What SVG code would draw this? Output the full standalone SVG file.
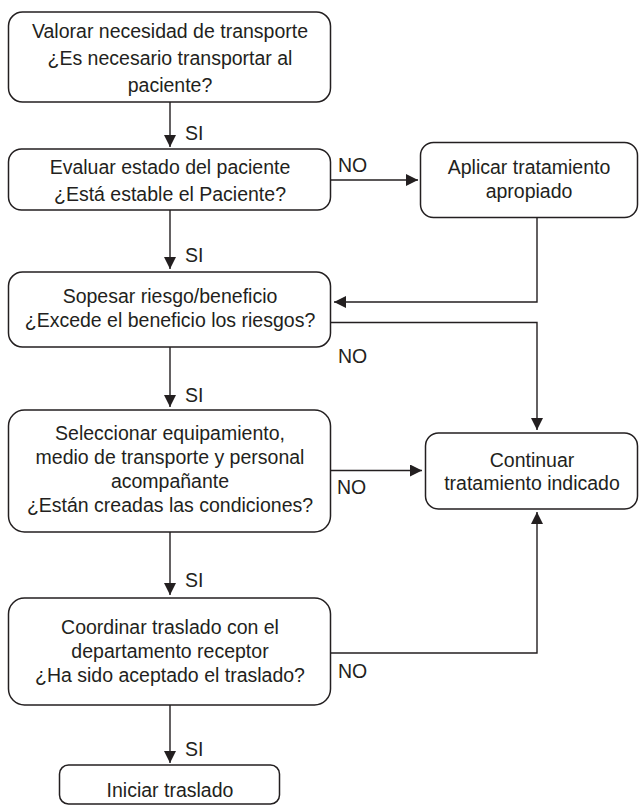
<svg xmlns="http://www.w3.org/2000/svg" width="643" height="808" viewBox="0 0 643 808">
<style>
  .box { fill: #ffffff; stroke: #231f20; stroke-width: 1.5; }
  .t { font-family: "Liberation Sans", Arial, sans-serif; font-size: 19.5px; fill: #231f20; text-anchor: middle; }
  .lbl { font-family: "Liberation Sans", Arial, sans-serif; font-size: 19.5px; fill: #231f20; }
  .c { fill: none; stroke: #231f20; stroke-width: 1.4; }
</style>
<defs>
  <marker id="ah" markerUnits="userSpaceOnUse" markerWidth="12" markerHeight="12" refX="12" refY="6" orient="auto">
    <path d="M0,0 L12,6 L0,12 z" fill="#231f20"/>
  </marker>
</defs>
<rect width="643" height="808" fill="#ffffff"/>

<g id="connectors">
  <line class="c" x1="170" y1="102" x2="170" y2="147" marker-end="url(#ah)"/>
  <line class="c" x1="331" y1="180" x2="418" y2="180" marker-end="url(#ah)"/>
  <polyline class="c" points="537,218 537,302 334,302" marker-end="url(#ah)"/>
  <line class="c" x1="170" y1="210" x2="170" y2="269" marker-end="url(#ah)"/>
  <polyline class="c" points="331,322.5 537,322.5 537,430" marker-end="url(#ah)"/>
  <line class="c" x1="170" y1="347" x2="170" y2="407" marker-end="url(#ah)"/>
  <line class="c" x1="331" y1="470.5" x2="422" y2="470.5" marker-end="url(#ah)"/>
  <line class="c" x1="170" y1="532" x2="170" y2="595" marker-end="url(#ah)"/>
  <polyline class="c" points="331,653 537,653 537,512" marker-end="url(#ah)"/>
  <line class="c" x1="170" y1="705" x2="170" y2="763" marker-end="url(#ah)"/>
  <text class="lbl" x="185" y="140">SI</text>
  <text class="lbl" x="185" y="262">SI</text>
  <text class="lbl" x="185" y="402">SI</text>
  <text class="lbl" x="185" y="587">SI</text>
  <text class="lbl" x="185" y="756">SI</text>
  <text class="lbl" x="338" y="172">NO</text>
  <text class="lbl" x="338" y="363">NO</text>
  <text class="lbl" x="337" y="494">NO</text>
  <text class="lbl" x="338" y="678">NO</text>
</g>

<g id="n1">
  <rect class="box" x="8.5" y="12" width="322" height="90" rx="14"/>
  <text class="t" x="170" y="38">Valorar necesidad de transporte</text>
  <text class="t" x="170" y="65">¿Es necesario transportar al</text>
  <text class="t" x="170" y="92">paciente?</text>
</g>

<g id="n2">
  <rect class="box" x="8.5" y="149" width="322" height="61" rx="13"/>
  <text class="t" x="170" y="174">Evaluar estado del paciente</text>
  <text class="t" x="170" y="201">¿Está estable el Paciente?</text>
</g>

<g id="n3">
  <rect class="box" x="420.5" y="142.5" width="217" height="75" rx="13"/>
  <text class="t" x="529" y="174">Aplicar tratamiento</text>
  <text class="t" x="529" y="198">apropiado</text>
</g>

<g id="n4">
  <rect class="box" x="8.5" y="272" width="322" height="75" rx="14"/>
  <text class="t" x="170" y="303">Sopesar riesgo/beneficio</text>
  <text class="t" x="170" y="327">¿Excede el beneficio los riesgos?</text>
</g>

<g id="n5">
  <rect class="box" x="8.5" y="410" width="322" height="122" rx="16"/>
  <text class="t" x="170" y="440">Seleccionar equipamiento,</text>
  <text class="t" x="170" y="464">medio de transporte y personal</text>
  <text class="t" x="170" y="488">acompañante</text>
  <text class="t" x="170" y="512">¿Están creadas las condiciones?</text>
</g>

<g id="n6">
  <rect class="box" x="425.5" y="433" width="212" height="76" rx="13"/>
  <text class="t" x="532" y="467">Continuar</text>
  <text class="t" x="532" y="490">tratamiento indicado</text>
</g>

<g id="n7">
  <rect class="box" x="8.5" y="598" width="322" height="107" rx="16"/>
  <text class="t" x="170" y="634">Coordinar traslado con el</text>
  <text class="t" x="170" y="658">departamento receptor</text>
  <text class="t" x="170" y="682">¿Ha sido aceptado el traslado?</text>
</g>

<g id="n8">
  <rect class="box" x="59.5" y="765" width="220" height="39" rx="9"/>
  <text class="t" x="170" y="797">Iniciar traslado</text>
</g>
</svg>
